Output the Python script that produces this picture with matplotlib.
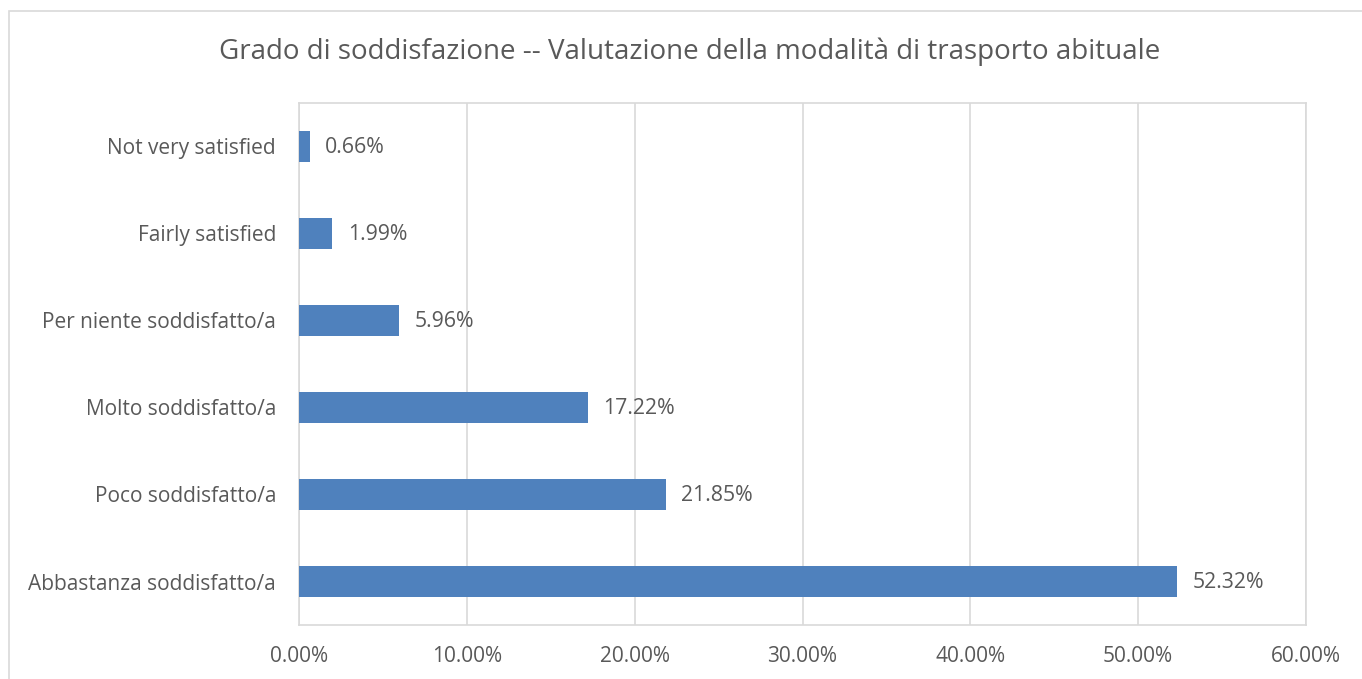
import matplotlib.pyplot as plt
from matplotlib.patches import Rectangle
from matplotlib.ticker import FuncFormatter

categories = ['Abbastanza soddisfatto/a', 'Poco soddisfatto/a', 'Molto soddisfatto/a',
              'Per niente soddisfatto/a', 'Fairly satisfied', 'Not very satisfied']
values = [52.32, 21.85, 17.22, 5.96, 1.99, 0.66]
x_ticks = [0, 10, 20, 30, 40, 50, 60]
title = 'Grado di soddisfazione -- Valutazione della modalità di trasporto abituale'

text_col = '#595959'
bar_col = '#4f81bd'
grid_col = '#d9d9d9'

plt.rcParams['font.family'] = ['Open Sans', 'DejaVu Sans']

fig = plt.figure(figsize=(13.62, 6.79), dpi=100)
W, H = 1362, 679
# outer chart border
fig.patches.append(Rectangle((9 / W, -0.1), 1.2, (H - 11) / H + 0.1,
                             transform=fig.transFigure, fill=False,
                             edgecolor=grid_col, linewidth=1.2))

ax = fig.add_axes([299 / W, 1 - 625 / H, (1306 - 299) / W, (625 - 103) / H])

ypos = range(len(categories))
ax.barh(ypos, values, height=0.345, color=bar_col, zorder=3)
for y, v in zip(ypos, values):
    ax.annotate(f'{v:.2f}%', xy=(v, y), xytext=(11, -1), textcoords='offset points',
                va='center', ha='left', fontsize=15.3, color=text_col)

ax.set_ylim(-0.5, len(categories) - 0.5)
ax.set_xlim(0, 60)
ax.set_xticks(x_ticks)
ax.xaxis.set_major_formatter(FuncFormatter(lambda x, p: f'{x:.2f}%'))
ax.set_yticks(list(ypos))
ax.set_yticklabels(categories)
ax.tick_params(axis='both', length=0, labelsize=15, labelcolor=text_col)
ax.tick_params(axis='x', pad=15)
ax.tick_params(axis='y', pad=16.5)
ax.grid(axis='x', color=grid_col, linewidth=1.2, zorder=0)
for s in ax.spines.values():
    s.set_color(grid_col)
    s.set_linewidth(1.2)

fig.text(690 / W, 1 - 52 / H, title, ha='center', va='center',
         fontsize=20, color=text_col)

plt.savefig('out.png', dpi=100)
